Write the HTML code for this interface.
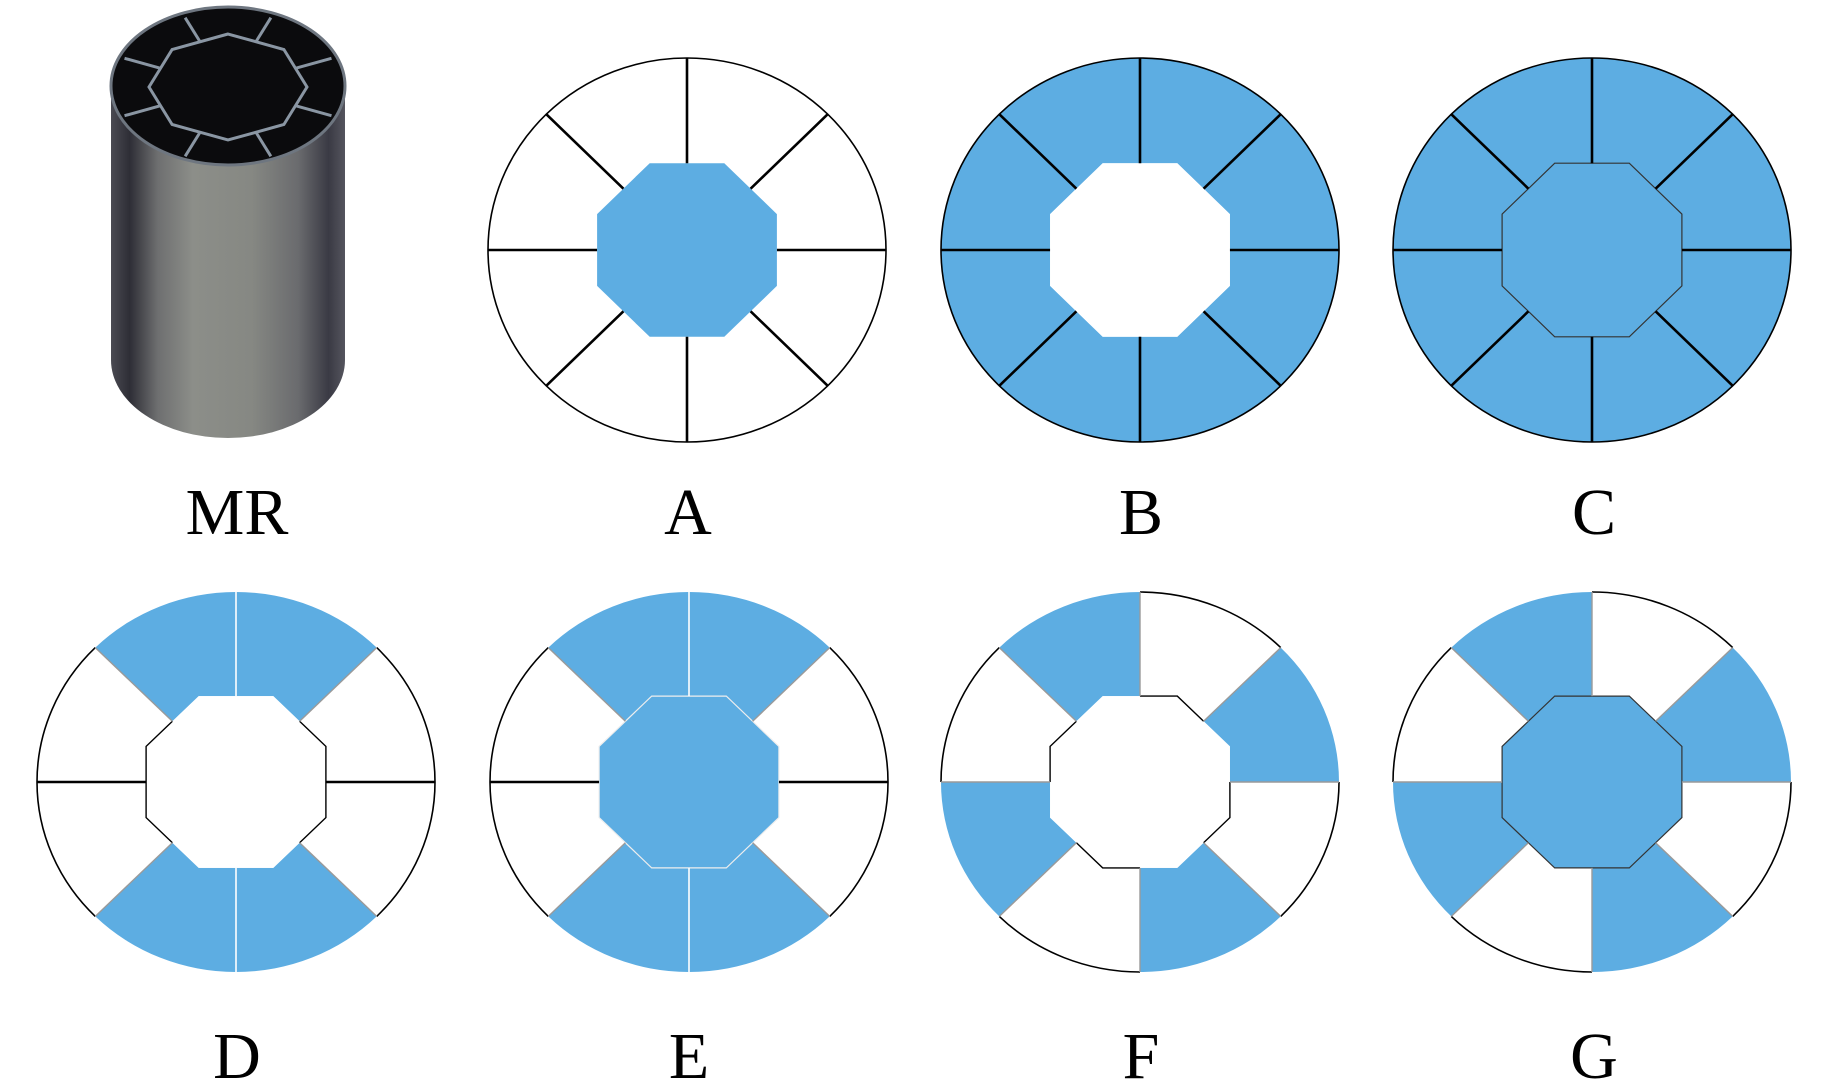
<!DOCTYPE html>
<html><head><meta charset="utf-8"><style>
html,body{margin:0;padding:0;background:#fff;}
svg{display:block;}
text{font-family:"Liberation Serif",serif;font-size:66px;fill:#000;}
</style></head><body>
<svg id="s" width="1843" height="1087" viewBox="0 0 1843 1087" xmlns="http://www.w3.org/2000/svg">
<defs>
<linearGradient id="cyl" x1="0" x2="1" y1="0" y2="0">
<stop offset="0" stop-color="#4a4a52"/>
<stop offset="0.08" stop-color="#2e2e36"/>
<stop offset="0.2" stop-color="#6e6f70"/>
<stop offset="0.35" stop-color="#8c8e89"/>
<stop offset="0.6" stop-color="#868883"/>
<stop offset="0.8" stop-color="#6a6b6e"/>
<stop offset="0.93" stop-color="#3a3a44"/>
<stop offset="1" stop-color="#55555e"/>
</linearGradient>
</defs>
<!-- MR cylinder -->
<path d="M111 86 L111 360 A117 78 0 0 0 345 360 L345 86 Z" fill="url(#cyl)"/>
<ellipse cx="228" cy="86" rx="117" ry="79" fill="#0b0b0d" stroke="#6e7680" stroke-width="3"/>
<g id="mrspokes" stroke="#8a96a3" stroke-width="3" fill="none"></g>
<text x="237" y="534" text-anchor="middle">MR</text>
<text x="688" y="534" text-anchor="middle">A</text>
<text x="1141" y="534" text-anchor="middle">B</text>
<text x="1594" y="534" text-anchor="middle">C</text>
<text x="237" y="1078" text-anchor="middle">D</text>
<text x="689" y="1078" text-anchor="middle">E</text>
<text x="1141" y="1078" text-anchor="middle">F</text>
<text x="1594" y="1078" text-anchor="middle">G</text>
</svg>
<script>
(function(){
var S=document.getElementById('s'),NS='http://www.w3.org/2000/svg';
var BLUE='#5dade2';
function el(t,a,p){var e=document.createElementNS(NS,t);for(var k in a)e.setAttribute(k,a[k]);(p||S).appendChild(e);return e;}
var d2r=Math.PI/180, AP=0.452, VR=AP/Math.cos(22.5*d2r);
function P(c,r,a){return [c.cx+c.rx*r*Math.cos(a*d2r), c.cy-c.ry*r*Math.sin(a*d2r)];}
function f(p){return p[0].toFixed(1)+' '+p[1].toFixed(1);}
// MR inner
(function(){
 var g=document.getElementById('mrspokes');var cx=228,cy=87;
 var pts=[];for(var k=0;k<8;k++){var a=(90+45*k)*d2r;pts.push((cx+79*Math.cos(a)).toFixed(1)+','+(cy-53*Math.sin(a)).toFixed(1));}
 el('polygon',{points:pts.join(' ')},g);
 for(var k=0;k<8;k++){var a=(22.5+45*k)*d2r;var ai=79*Math.cos(22.5*d2r),bi=53*Math.cos(22.5*d2r);
  el('line',{x1:cx+ai*Math.cos(a),y1:cy-bi*Math.sin(a),x2:cx+112*Math.cos(a),y2:cy-75*Math.sin(a)},g);}
})();
function diagram(c){
 // sectors
 for(var k=0;k<8;k++){
  var a0=45*k,a1=a0+45,fill=c.sec[k]?BLUE:'#fff';
  var d='M'+f(P(c,1,a0))+' A'+c.rx+' '+c.ry+' 0 0 0 '+f(P(c,1,a1))+' L'+f(P(c,AP,a1))+' L'+f(P(c,VR,a0+22.5))+' L'+f(P(c,AP,a0))+' Z';
  el('path',{d:d,fill:fill,stroke:'none'});
 }
 // hub
 var pts=[];for(var k=0;k<8;k++)pts.push(f(P(c,VR,22.5+45*k)).replace(' ',','));
 el('polygon',{points:pts.join(' '),fill:c.hub?BLUE:'#fff',stroke:c.hubStroke||'none','stroke-width':1.2});
 // outlines
 if(c.full){
  el('ellipse',{cx:c.cx,cy:c.cy,rx:c.rx,ry:c.ry,fill:'none',stroke:'#000','stroke-width':1.6});
 } else {
  for(var k=0;k<8;k++){ if(c.sec[k])continue; var a0=45*k,a1=a0+45;
   el('path',{d:'M'+f(P(c,1,a0))+' A'+c.rx+' '+c.ry+' 0 0 0 '+f(P(c,1,a1)),fill:'none',stroke:'#000','stroke-width':1.6});
   if(!c.hub) el('path',{d:'M'+f(P(c,AP,a1))+' L'+f(P(c,VR,a0+22.5))+' L'+f(P(c,AP,a0)),fill:'none',stroke:'#000','stroke-width':1.4});
  }
 }
 // spokes
 for(var k=0;k<8;k++){
  var a=45*k, s1=c.sec[k], s0=c.sec[(k+7)%8], col, w;
  if(c.full){col='#000';w=2.6;}
  else if(!s1&&!s0){col='#000';w=2.6;}
  else if(s1&&s0){col='#fff';w=1.6;}
  else {col='#9a9a9a';w=1.4;}
  el('line',{x1:P(c,AP,a)[0],y1:P(c,AP,a)[1],x2:P(c,1,a)[0],y2:P(c,1,a)[1],stroke:col,'stroke-width':w});
 }
}
var r1={cy:250,rx:199,ry:192}, r2={cy:782,rx:199,ry:190};
function mk(base,o){var c={};for(var k in base)c[k]=base[k];for(var k in o)c[k]=o[k];return c;}
diagram(mk(r1,{cx:687,sec:[0,0,0,0,0,0,0,0],hub:1,full:1}));
diagram(mk(r1,{cx:1140,sec:[1,1,1,1,1,1,1,1],hub:0,full:1}));
diagram(mk(r1,{cx:1592,sec:[1,1,1,1,1,1,1,1],hub:1,full:1,hubStroke:'#333'}));
diagram(mk(r2,{cx:236,sec:[0,1,1,0,0,1,1,0],hub:0}));
diagram(mk(r2,{cx:689,sec:[0,1,1,0,0,1,1,0],hub:1,hubStroke:'#eee'}));
diagram(mk(r2,{cx:1140,sec:[1,0,1,0,1,0,1,0],hub:0}));
diagram(mk(r2,{cx:1592,sec:[1,0,1,0,1,0,1,0],hub:1,hubStroke:'#333'}));
})();
</script>
</body></html>
